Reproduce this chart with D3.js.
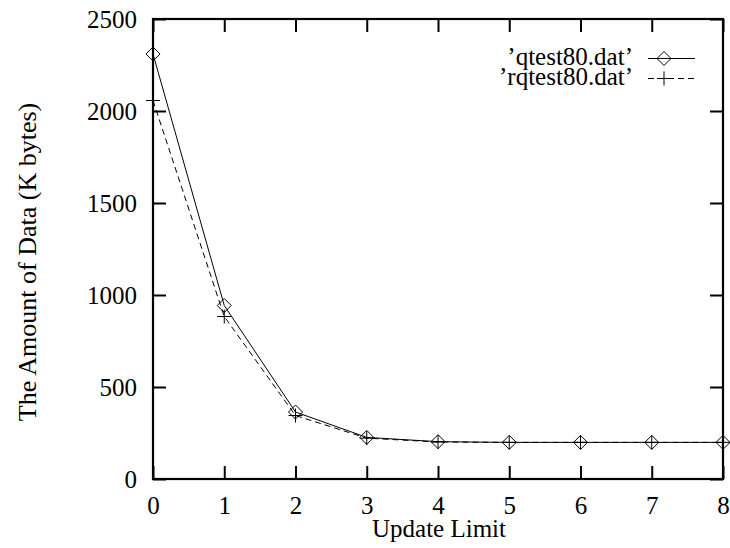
<!DOCTYPE html>
<html>
<head>
<meta charset="utf-8">
<script src="https://cdn.jsdelivr.net/npm/d3@7"></script>
<style>
  body { margin: 0; background: #fff; }
  #chart text { font-family: 'Liberation Serif', 'Times New Roman', Tinos, serif !important; }
</style>
</head>
<body>
<div id="chart"></div>
<script>
// Data
const updateLimits = [0, 1, 2, 3, 4, 5, 6, 7, 8];
const qtestValues = [2310, 943, 364, 226, 203, 199, 199, 199, 199];
const rqtestValues = [2057, 883, 345, 222, 201, 199, 199, 199, 199];
const yTicks = [0, 500, 1000, 1500, 2000, 2500];
const seriesNames = ["\u2019qtest80.dat\u2019", "\u2019rqtest80.dat\u2019"];

// Layout
const width = 730, height = 548;
const margin = { top: 19, right: 7, bottom: 69, left: 153 };
const innerW = width - margin.left - margin.right;
const innerH = height - margin.top - margin.bottom;
const fontSize = 25;
const fontFace = "Times New Roman";
const tickLen = 13;

const svg = d3.select("#chart")
  .append("svg")
  .attr("width", width)
  .attr("height", height);

const g = svg.append("g")
  .attr("transform", `translate(${margin.left},${margin.top})`);

const x = d3.scaleLinear().domain([0, 8]).range([0, innerW]);
const y = d3.scaleLinear().domain([0, 2500]).range([innerH, 0]);

// Bottom axis (labels + inward ticks)
const xAxis = g.append("g")
  .attr("transform", `translate(0,${innerH})`)
  .call(d3.axisBottom(x).tickValues(updateLimits).tickSize(-tickLen).tickPadding(17).tickFormat(d3.format("d")));
// Top mirror ticks
const xAxisTop = g.append("g")
  .call(d3.axisTop(x).tickValues(updateLimits).tickSize(-tickLen).tickFormat(""));
// Left axis
const yAxis = g.append("g")
  .call(d3.axisLeft(y).tickValues(yTicks).tickSize(-tickLen).tickPadding(16).tickFormat(d3.format("d")));
// Right mirror ticks
const yAxisRight = g.append("g")
  .attr("transform", `translate(${innerW},0)`)
  .call(d3.axisRight(y).tickValues(yTicks).tickSize(-tickLen).tickFormat(""));

[xAxis, xAxisTop, yAxis, yAxisRight].forEach(a => {
  a.attr("font-family", fontFace).attr("font-size", fontSize);
  a.select(".domain").remove();
  a.selectAll(".tick line").attr("stroke", "#000").attr("stroke-width", 2);
  a.selectAll(".tick text").attr("fill", "#000").attr("font-family", fontFace);
});

// Frame
g.append("rect")
  .attr("x", 0).attr("y", 0)
  .attr("width", innerW).attr("height", innerH)
  .attr("fill", "none")
  .attr("stroke", "#000")
  .attr("stroke-width", 2.2);

// Axis titles
svg.append("text")
  .attr("x", 439)
  .attr("y", 537)
  .attr("text-anchor", "middle")
  .attr("font-family", fontFace)
  .attr("font-size", fontSize)
  .text("Update Limit");

svg.append("text")
  .attr("transform", "translate(36,262) rotate(-90)")
  .attr("text-anchor", "middle")
  .attr("font-family", fontFace)
  .attr("font-size", fontSize + 1)
  .text("The Amount of Data (K bytes)");

// Series
const line = d3.line()
  .x((d, i) => x(updateLimits[i]))
  .y(d => y(d));

g.append("path")
  .datum(qtestValues)
  .attr("d", line)
  .attr("fill", "none")
  .attr("stroke", "#000")
  .attr("stroke-width", 1);

g.append("path")
  .datum(rqtestValues)
  .attr("d", line)
  .attr("fill", "none")
  .attr("stroke", "#000")
  .attr("stroke-width", 1)
  .attr("stroke-dasharray", "6,4");

const diamond = (cx, cy) => `M${cx - 7},${cy}L${cx},${cy - 7}L${cx + 7},${cy}L${cx},${cy + 7}Z`;
const plus = (cx, cy) => `M${cx - 7},${cy}H${cx + 7}M${cx},${cy - 7}V${cy + 7}`;

g.selectAll(".pt-q")
  .data(qtestValues)
  .join("path")
  .attr("class", "pt-q")
  .attr("d", (d, i) => diamond(x(updateLimits[i]), y(d)))
  .attr("fill", "none")
  .attr("stroke", "#000")
  .attr("stroke-width", 1);

g.selectAll(".pt-r")
  .data(rqtestValues)
  .join("path")
  .attr("class", "pt-r")
  .attr("d", (d, i) => plus(x(updateLimits[i]), y(d)))
  .attr("fill", "none")
  .attr("stroke", "#000")
  .attr("stroke-width", 1);

// Legend
const legend = svg.append("g");
const legendRows = [
  { name: seriesNames[0], dash: null, marker: diamond },
  { name: seriesNames[1], dash: "6,4", marker: plus }
];
legendRows.forEach((row, i) => {
  const base = 65 + i * 20;
  const ly = base - 6.5;
  legend.append("text")
    .attr("x", 633)
    .attr("y", base)
    .attr("text-anchor", "end")
    .attr("font-family", fontFace)
    .attr("font-size", fontSize)
    .text(row.name);
  legend.append("line")
    .attr("x1", 648).attr("x2", 695)
    .attr("y1", ly).attr("y2", ly)
    .attr("stroke", "#000")
    .attr("stroke-width", 1)
    .attr("stroke-dasharray", row.dash);
  legend.append("path")
    .attr("d", row.marker(664, ly))
    .attr("fill", "none")
    .attr("stroke", "#000")
    .attr("stroke-width", 1);
});
</script>
</body>
</html>
